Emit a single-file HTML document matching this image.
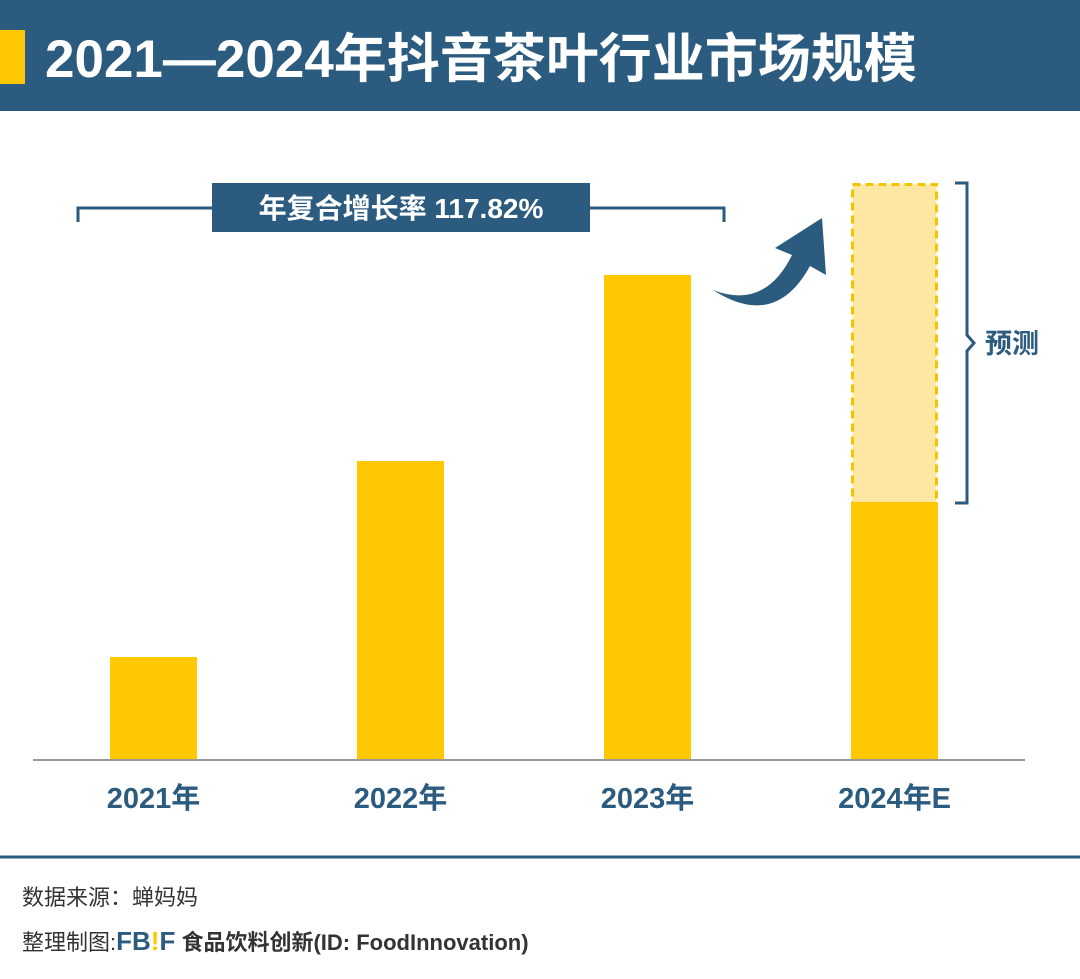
<!DOCTYPE html>
<html><head><meta charset="utf-8">
<style>
body{margin:0;width:1080px;height:979px;background:#fff;overflow:hidden;font-family:"Liberation Sans","Noto Sans CJK SC",sans-serif;}
svg{display:block}
</style></head>
<body>
<svg width="1080" height="979" xmlns="http://www.w3.org/2000/svg" id="chart">
<rect x="0" y="0" width="1080" height="111" fill="#2B5B7F"/>
<rect x="0" y="30" width="25" height="54" fill="#FFC800"/>
<text x="45" y="77" fill="#fff" font-size="53" font-weight="bold" font-family="Liberation Sans,Noto Sans CJK SC,sans-serif">2021—2024年抖音茶叶行业市场规模</text>
<g id="bars"></g>
<line x1="33" y1="760" x2="1025" y2="760" stroke="#999" stroke-width="2"/>
<g>
<path d="M78 222 V208 H724 V222" fill="none" stroke="#2B5B7F" stroke-width="3"/>
<rect x="212" y="183" width="378" height="49" fill="#2B5B7F"/>
<text x="401" y="218" fill="#fff" font-size="28" font-weight="bold" text-anchor="middle">年复合增长率 117.82%</text>
</g>
<path d="M713 290 Q765 310 792 255 L775 248 L822 218 L826 275 L810 266 Q775 330 713 290 Z" fill="#2B5B7F"/>
<path d="M955 183 H967 V335 L974 343 L967 351 V503 H955" fill="none" stroke="#2B5B7F" stroke-width="3"/>
<text x="985" y="353" fill="#2B5B7F" font-size="27" font-weight="bold">预测</text>
<line x1="0" y1="857" x2="1080" y2="857" stroke="#2B5B7F" stroke-width="3"/>
<text x="22" y="905" fill="#333" font-size="22">数据来源：蝉妈妈</text>
<text x="22" y="950" fill="#333" font-size="22">整理制图:<tspan fill="#2B5B7F" font-weight="bold" font-size="26">FB</tspan><tspan fill="#FFC800" font-weight="bold" font-size="26">!</tspan><tspan fill="#2B5B7F" font-weight="bold" font-size="26">F</tspan><tspan font-weight="bold"> 食品饮料创新(ID: FoodInnovation)</tspan></text>
</svg>
<script>
const categories = ["2021年","2022年","2023年","2024年E"];
const actualValues = [1.03, 2.99, 4.85, 2.58];
const forecastValues = [null, null, null, 5.77];
const NS="http://www.w3.org/2000/svg";
const g=document.getElementById('bars');
const baseY=760, unit=100;
function y(v){return baseY - v*unit;}
function x(i){return 110 + i*247;}
const bw=87;
function mk(tag,attrs){const e=document.createElementNS(NS,tag);for(const k in attrs)e.setAttribute(k,attrs[k]);g.appendChild(e);return e;}
categories.forEach((c,i)=>{
  if(forecastValues[i]!=null){
    const f=mk('rect',{x:x(i)+1.5,y:y(forecastValues[i])+1.5,width:bw-3,height:(forecastValues[i]-actualValues[i])*unit,fill:'#FDE7A2',stroke:'#F5C400','stroke-width':3,'stroke-dasharray':'8,5'});
    
    
  }
  const r=mk('rect',{x:x(i),y:y(actualValues[i]),width:bw,height:actualValues[i]*unit,fill:'#FFC800'});
  
  
  const t=mk('text',{x:x(i)+bw/2,y:808,'text-anchor':'middle',fill:'#2B5B7F','font-size':29,'font-weight':'bold'});
  t.textContent=c;
  
  
});
</script>
</body></html>
